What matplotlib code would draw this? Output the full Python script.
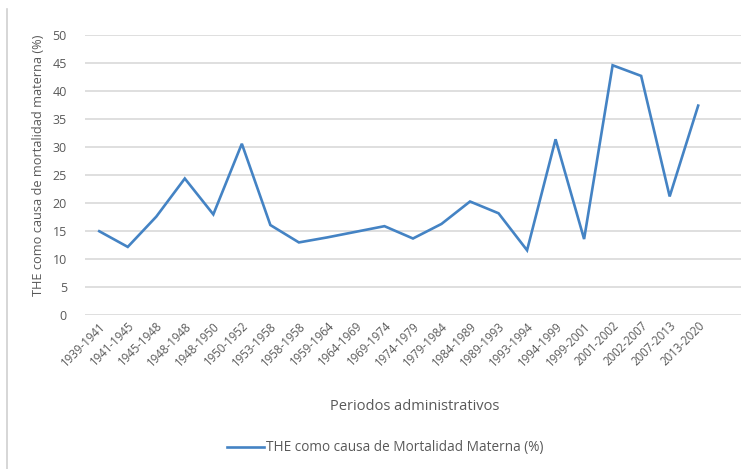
import matplotlib
matplotlib.use('Agg')
import matplotlib.pyplot as plt
from matplotlib.lines import Line2D

# datos
periodos = ['1939-1941', '1941-1945', '1945-1948', '1948-1948', '1948-1950', '1950-1952',
            '1953-1958', '1958-1958', '1959-1964', '1964-1969', '1969-1974', '1974-1979',
            '1979-1984', '1984-1989', '1989-1993', '1993-1994', '1994-1999', '1999-2001',
            '2001-2002', '2002-2007', '2007-2013', '2013-2020']
the_pct = [15.0, 12.2, 17.6, 24.4, 18.0, 30.6, 16.1, 13.0, 13.9, 14.9, 15.9, 13.7,
           16.3, 20.3, 18.2, 11.6, 31.4, 13.6, 44.6, 42.7, 21.2, 37.4]
y_ticks = [0, 5, 10, 15, 20, 25, 30, 35, 40, 45, 50]

gris = '#595959'
plt.rcParams['font.family'] = ['Open Sans', 'DejaVu Sans']

fig = plt.figure(figsize=(7.48, 4.69), dpi=100)
ax = fig.add_axes([0.1136, 0.3277, 0.877, 0.5977])

x = list(range(len(periodos)))
ax.plot(x, the_pct, color='#4483c4', linewidth=1.9, label='THE como causa de Mortalidad Materna (%)',
        solid_joinstyle='miter')

ax.set_xlim(-0.5, len(periodos) + 0.5)
ax.set_ylim(0, 50)
ax.set_yticks(y_ticks)
ax.set_xticks(x)
ax.set_xticklabels(periodos, rotation=45, ha='right', rotation_mode='anchor')
ax.tick_params(axis='x', length=0, labelsize=8.3, colors=gris, pad=3)
ax.tick_params(axis='y', length=0, labelsize=9, colors=gris, pad=13)
ax.grid(axis='y', color='#d9d9d9', linewidth=1.2)
ax.set_axisbelow(True)
for s in ax.spines.values():
    s.set_visible(False)

ax.set_ylabel('THE como causa de mortalidad materna (%)', fontsize=9.2, color=gris)
ax.yaxis.set_label_coords(-0.061, 0.536)
fig.text(0.554, 0.134, 'Periodos administrativos', fontsize=10.5, color=gris, ha='center', va='center')

leg = fig.legend(loc='center', bbox_to_anchor=(0.515, 0.045), frameon=False, fontsize=9.8,
                 handlelength=2.7, handletextpad=0.15)
for t in leg.get_texts():
    t.set_color(gris)

# borde izquierdo del recuadro
fig.add_artist(Line2D([0.0098, 0.0098], [0.0, 0.98], color='#d0d0d0', linewidth=1.2))

fig.savefig('out.png', dpi=100)
